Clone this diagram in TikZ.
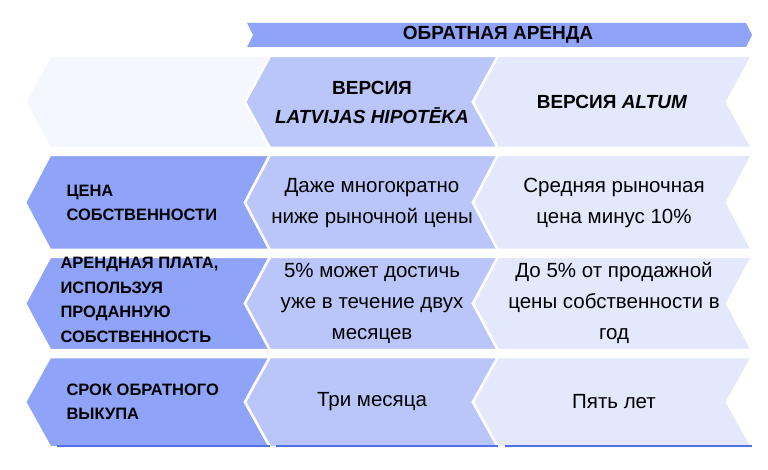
\documentclass[tikz,border=0pt]{standalone}
\usepackage{fontspec}
\setmainfont{Liberation Sans}
\definecolor{hdblue}{HTML}{8FA3F8}
\definecolor{midblue}{HTML}{BAC6FA}
\definecolor{paleblue}{HTML}{E3E8FC}
\definecolor{ghost}{HTML}{F5F7FE}
\definecolor{lineblue}{HTML}{5470E8}
\newcommand{\chev}[6]{% fill, left, right, top, bottom, depth
  \fill[#1,draw=white,line width=2.5pt,line join=miter]
    ({#2+#6},#4) -- (#2,{(#4+#5)/2}) -- ({#2+#6},#5) -- (#3,#5)
    -- ({#3-#6},{(#4+#5)/2}) -- (#3,#4) -- cycle;}
\tikzset{
  labeltext/.style={font=\bfseries\fontsize{16.5}{24.5}\selectfont,align=left,anchor=west},
  celltext/.style={font=\fontsize{20.5}{31}\selectfont,align=center},
  headtext/.style={font=\bfseries\fontsize{19}{29}\selectfont,align=center}
}
\begin{document}
\begin{tikzpicture}[x=1pt,y=-1pt]
  \useasboundingbox (0,0) rectangle (768,470);
  % header bar
  \fill[hdblue] (247,23) -- (746,23) -- (752,35) -- (746,47) -- (247,47) -- (253,35) -- cycle;
  \node[headtext] (head) at (498,35) {ОБРАТНАЯ АРЕНДА};
  % row 1
  \chev{ghost}{25}{270}{56}{148}{25}
  \chev{midblue}{245}{498}{56}{148}{25}
  \chev{paleblue}{473}{752}{56}{148}{25}
  \node[headtext] (vlh) at (372,102) {ВЕРСИЯ\\\textit{LATVIJAS HIPOTĒKA}};
  \node[headtext] (valt) at (612,102) {ВЕРСИЯ \textit{ALTUM}};
  % row 2
  \chev{hdblue}{25}{270}{155}{250}{25}
  \chev{midblue}{245}{498}{155}{250}{25}
  \chev{paleblue}{473}{752}{155}{250}{25}
  \node[labeltext] (price) at (63,203) {ЦЕНА\\СОБСТВЕННОСТИ};
  \node[celltext] (pricelh) at (372,203) {Даже многократно\\ниже рыночной цены};
  \node[celltext] (pricealt) at (614,203) {Средняя рыночная\\цена минус 10\%};
  % row 3
  \chev{hdblue}{25}{270}{257}{350}{25}
  \chev{midblue}{245}{498}{257}{350}{25}
  \chev{paleblue}{473}{752}{257}{350}{25}
  \node[labeltext] (rent) at (57,300) {АРЕНДНАЯ ПЛАТА,\\ИСПОЛЬЗУЯ\\ПРОДАННУЮ\\СОБСТВЕННОСТЬ};
  \node[celltext] (rentlh) at (372,303) {5\% может достичь\\уже в течение двух\\месяцев};
  \node[celltext] (rentalt) at (614,303) {До 5\% от продажной\\цены собственности в\\год};
  % row 4
  \chev{hdblue}{25}{270}{357}{447}{25}
  \chev{midblue}{245}{498}{357}{447}{25}
  \chev{paleblue}{473}{752}{357}{447}{25}
  \draw[lineblue,line width=2.5pt] (57,446) -- (270,446) (276,446) -- (498,446) (505,446) -- (752,446);
  \node[labeltext] (term) at (63,402) {СРОК ОБРАТНОГО\\ВЫКУПА};
  \node[celltext] (termlh) at (372,402) {Три месяца};
  \node[celltext] (termalt) at (614,402) {Пять лет};
\end{tikzpicture}
\end{document}
